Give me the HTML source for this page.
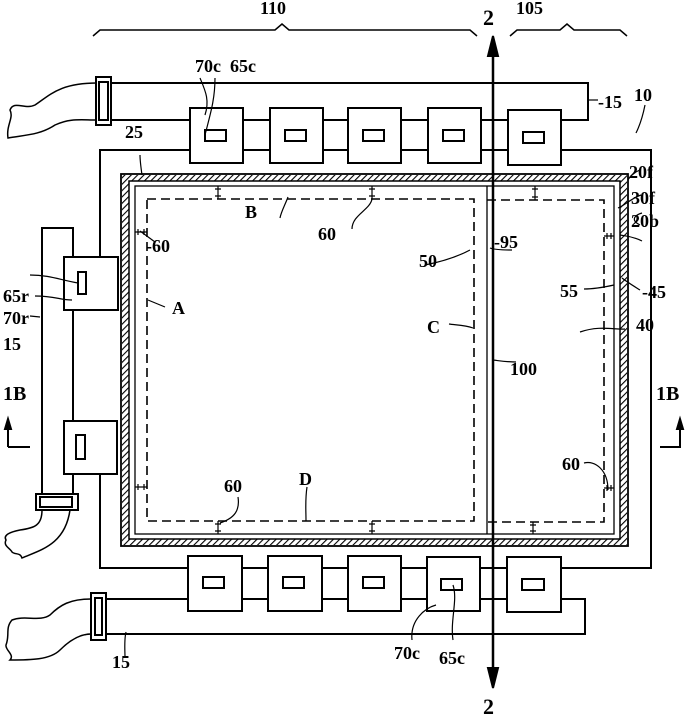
<!DOCTYPE html>
<html><head><style>body{margin:0;background:#fff}svg{display:block}text{font-family:"Liberation Serif",serif;font-weight:bold;font-size:18px;fill:#000}</style></head>
<body>
<svg width="693" height="719" viewBox="0 0 693 719" xmlns="http://www.w3.org/2000/svg">
<defs>
<pattern id="h" width="4.5" height="4.5" patternUnits="userSpaceOnUse" patternTransform="rotate(45)"><rect width="4.5" height="4.5" fill="#fff"/><line x1="0" y1="0" x2="0" y2="4.5" stroke="#000" stroke-width="2.2"/></pattern>
</defs>
<g fill="none" stroke="#000" stroke-width="2">
<path d="M93,36 L100,30 L275,30 L282,24 L289,30 L470,30 L477,36" stroke-width="1.5"/>
<path d="M510,36 L517,30 L560,30 L567,24 L574,30 L620,30 L627,36" stroke-width="1.5"/>
<path d="M97,83 L588,83 L588,120 L561,120"/>
<path d="M97,120 L190,120"/>
<path d="M243,120 L270,120 M322,120 L348,120 M401,120 L428,120 M481,120 L508,120"/>
<path d="M243,150 L270,150 M322,150 L348,150 M401,150 L428,150 M481,150 L508,150"/>
<path d="M97,83 C60,83 50,95 35,105 C25,110 14,100 10,110 C14,118 6,125 8,138 C25,135 40,135 55,125 C70,118 80,120 97,120" stroke-width="1.5"/>
<rect x="96" y="77" width="15" height="48" fill="#fff"/><rect x="99" y="82" width="9" height="38"/>
<path d="M100,257 L100,150 L190,150 M561,150 L651,150 L651,568 L561,568 M188,568 L100,568 L100,473"/>
<rect x="122" y="175" width="505" height="370" fill="url(#h)" stroke="none"/>
<rect x="121" y="174" width="507" height="372" stroke-width="1.8"/>
<rect x="129" y="181" width="491" height="358" fill="#fff" stroke-width="1.5"/>
<rect x="135" y="186" width="479" height="348" stroke-width="1.3"/>
<rect x="147" y="199" width="327" height="322" stroke-dasharray="9,5" stroke-width="1.6"/>
<path d="M487,200 H604 V522 H487" stroke-dasharray="9,5" stroke-width="1.6"/>
<line x1="487" y1="186" x2="487" y2="534" stroke-width="1.3"/>
<g stroke-width="1.2">
<path d="M218,186 V199 M215,189 H221 M215,196 H221"/>
<path d="M372,186 V199 M369,189 H375 M369,196 H375"/>
<path d="M535,186 V200 M532,189 H538 M532,197 H538"/>
<path d="M218,521 V534 M215,524 H221 M215,531 H221"/>
<path d="M372,521 V534 M369,524 H375 M369,531 H375"/>
<path d="M533,522 V534 M530,525 H536 M530,531 H536"/>
<path d="M135,232 H147 M138,229 V235 M144,229 V235"/>
<path d="M135,487 H147 M138,484 V490 M144,484 V490"/>
<path d="M604,236 H614 M607,233 V239 M611,233 V239"/>
<path d="M604,488 H614 M607,485 V491 M611,485 V491"/>
</g>
<g fill="#fff">
<rect x="190" y="108" width="53" height="55"/><rect x="270" y="108" width="53" height="55"/><rect x="348" y="108" width="53" height="55"/><rect x="428" y="108" width="53" height="55"/><rect x="508" y="110" width="53" height="55"/>
<rect x="205" y="130" width="21" height="11"/><rect x="285" y="130" width="21" height="11"/><rect x="363" y="130" width="21" height="11"/><rect x="443" y="130" width="21" height="11"/><rect x="523" y="132" width="21" height="11"/>
</g>
<path d="M73,257 V228 H42 V494 M73,310 V421 M73,474 V494"/>
<path d="M42,510 C42,525 35,528 20,530 C10,532 3,535 6,540 C3,546 10,548 12,552 C15,555 20,552 22,558 C40,550 65,545 70,510" stroke-width="1.5"/>
<rect x="36" y="494" width="42" height="16" fill="#fff"/><rect x="40" y="497" width="32" height="10"/>
<rect x="64" y="257" width="54" height="53" fill="#fff"/><rect x="78" y="272" width="8" height="22"/>
<rect x="64" y="421" width="53" height="53" fill="#fff"/><rect x="76" y="435" width="9" height="24"/>
<path d="M106,599 H188 M242,599 H270 M322,599 H348 M401,599 H427 M480,599 H507 M561,599 H585 V634 H106"/>
<path d="M242,568 H270 M322,568 H348 M401,568 H427 M480,568 H507"/>
<path d="M91,599 C70,599 60,605 50,615 C40,622 25,615 12,620 C5,628 10,635 6,645 C5,650 15,655 10,660 C30,660 50,660 60,650 C70,640 80,634 91,634" stroke-width="1.5"/>
<rect x="91" y="593" width="15" height="47" fill="#fff"/><rect x="95" y="598" width="7" height="37"/>
<g fill="#fff">
<rect x="188" y="556" width="54" height="55"/><rect x="268" y="556" width="54" height="55"/><rect x="348" y="556" width="53" height="55"/><rect x="427" y="557" width="53" height="54"/><rect x="507" y="557" width="54" height="55"/>
<rect x="203" y="577" width="21" height="11"/><rect x="283" y="577" width="21" height="11"/><rect x="363" y="577" width="21" height="11"/><rect x="441" y="579" width="21" height="11"/><rect x="522" y="579" width="22" height="11"/>
</g>
<line x1="493" y1="40" x2="493" y2="684" stroke-width="2.5"/>
<path d="M488,56 L493,36 L498,56 Z M488,668 L493,688 L498,668 Z" fill="#000"/>
<path d="M8,447 H30 M8,447 V425" stroke-width="2"/><path d="M5,429 L8,419 L11,429Z" fill="#000"/>
<path d="M660,447 H680 V425" stroke-width="2"/><path d="M677,429 L680,419 L683,429Z" fill="#000"/>
<g stroke-width="1.2">
<path d="M200,78 C205,90 210,100 205,115"/><path d="M215,78 C215,100 210,115 205,135"/>
<path d="M140,155 C140,160 141,168 142,175"/>
<path d="M155,242 L140,231"/><path d="M30,275 C50,275 60,280 78,283"/><path d="M35,296 C55,296 60,300 72,300"/>
<path d="M165,307 L148,300"/><path d="M30,316 L40,317"/>
<path d="M288,197 C285,205 281,212 280,218"/>
<path d="M352,229 C352,215 370,210 372,199"/>
<path d="M425,265 C440,262 455,258 470,250"/>
<path d="M449,324 C455,325 465,325 473,328"/>
<path d="M512,250 C505,250 495,250 490,248"/>
<path d="M516,362 C505,362 495,360 492,360"/>
<path d="M584,289 C595,289 605,287 614,285"/>
<path d="M580,332 C600,325 615,330 625,329"/>
<path d="M640,290 C632,285 627,282 622,278"/>
<path d="M642,241 C632,236 625,236 620,235"/>
<path d="M640,170 C635,172 630,176 628,180"/>
<path d="M641,195 C632,198 625,205 618,208"/>
<path d="M642,213 C635,215 630,220 640,225"/>
<path d="M588,100 H598"/><path d="M645,105 C643,115 640,125 636,133"/>
<path d="M584,463 C595,460 608,470 608,490"/>
<path d="M238,497 C240,510 235,518 220,523"/>
<path d="M307,487 C305,500 306,510 306,521"/>
<path d="M436,605 C425,608 410,620 412,640"/><path d="M453,585 C458,600 450,620 453,640"/>
<path d="M125,658 C125,650 124,640 126,632"/>
</g>
</g>
<text x="260" y="14">110</text><text x="483" y="25" style="font-size:22px">2</text><text x="516" y="14">105</text>
<text x="195" y="72">70c</text><text x="230" y="72">65c</text><text x="598" y="108">-15</text><text x="634" y="101">10</text>
<text x="125" y="138">25</text><text x="629" y="178">20f</text><text x="631" y="204">30f</text><text x="631" y="227">20b</text>
<text x="146" y="252">-60</text><text x="245" y="218">B</text><text x="318" y="240">60</text><text x="494" y="248">-95</text>
<text x="3" y="302">65r</text><text x="3" y="324">70r</text><text x="419" y="267">50</text><text x="560" y="297">55</text><text x="642" y="298">-45</text>
<text x="3" y="350">15</text><text x="172" y="314">A</text><text x="427" y="333">C</text><text x="636" y="331">40</text>
<text x="510" y="375">100</text><text x="3" y="400" style="font-size:20px">1B</text><text x="656" y="400" style="font-size:20px">1B</text>
<text x="562" y="470">60</text><text x="224" y="492">60</text><text x="299" y="485">D</text>
<text x="394" y="659">70c</text><text x="439" y="664">65c</text><text x="112" y="668">15</text><text x="483" y="714" style="font-size:22px">2</text>
</svg>
</body></html>
